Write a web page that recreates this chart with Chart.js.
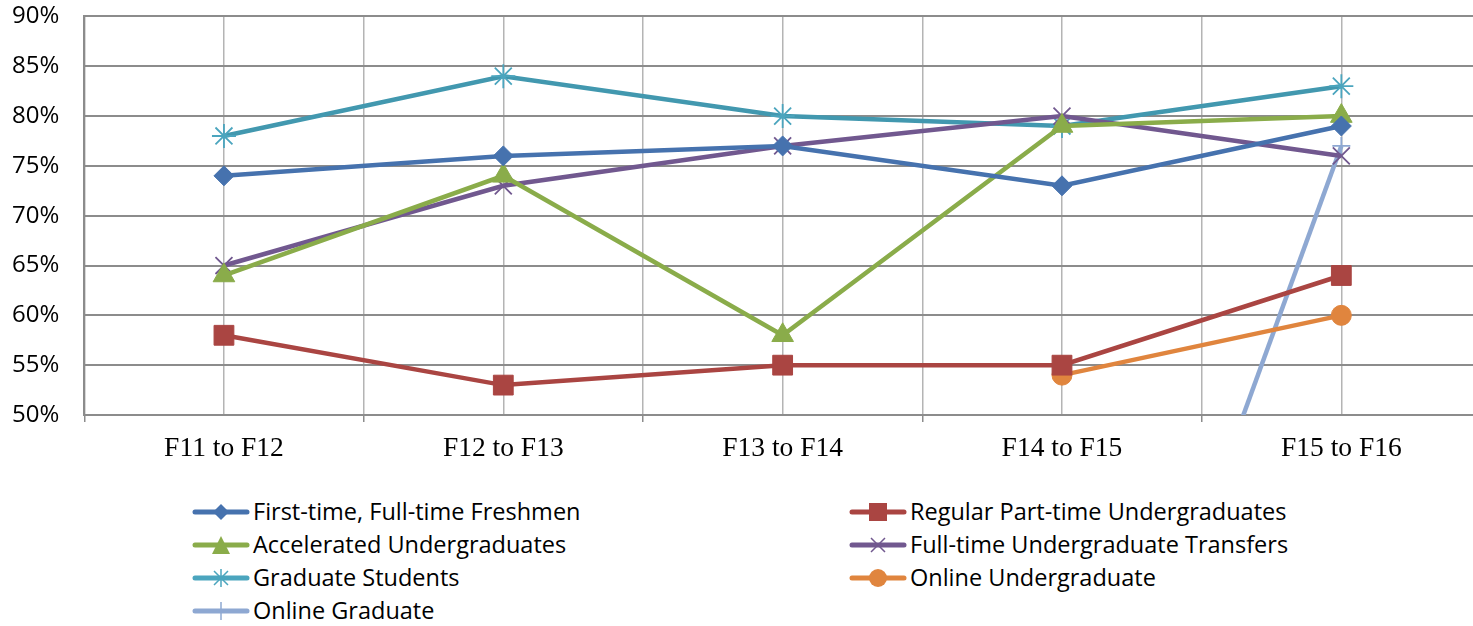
<!DOCTYPE html>
<html>
<head>
<meta charset="utf-8">
<script src="https://cdn.jsdelivr.net/npm/chart.js@4.4.0/dist/chart.umd.min.js"></script>
<style>
    body { margin: 0; background: #fff; overflow: hidden; }
    #wrap { position: relative; width: 1519px; height: 506px; margin-top: -23px; margin-left: -23px; }
    #legend { position: absolute; left: 0; top: 495px; width: 1473px; font-family: "Open Sans", sans-serif; font-size: 23.5px; color: #000; }
    .item { position: absolute; height: 33px; line-height: 33px; white-space: nowrap; }
    .item svg { vertical-align: middle; margin-right: 3px; margin-top: -4px; }
</style>
</head>
<body>
<div id="wrap"><canvas id="chart"></canvas></div>
<div id="legend"></div>
<script>
var periods = ["F11 to F12", "F12 to F13", "F13 to F14", "F14 to F15", "F15 to F16"];

var freshmen = [74, 76, 77, 73, 79];
var partTime = [58, 53, 55, 55, 64];
var accelerated = [64, 74, 58, 79, 80];
var transfers = [65, 73, 77, 80, 76];
var graduate = [78, 84, 80, 79, 83];
var onlineUndergrad = [null, null, null, 54, 60];
var onlineGrad = [null, null, null, 0, 77];

var seriesNames = ["First-time, Full-time Freshmen", "Regular Part-time Undergraduates", "Accelerated Undergraduates",
    "Full-time Undergraduate Transfers", "Graduate Students", "Online Undergraduate", "Online Graduate"];
var seriesData = [freshmen, partTime, accelerated, transfers, graduate, onlineUndergrad, onlineGrad];
var seriesColors = ["#4672AE", "#AA4542", "#8AAC4A", "#71588F", "#4298AF", "#E0853E", "#8EA8D2"];
var markerColors = ["#4672AE", "#AA4542", "#8AAC4A", "#71588F", "#4BA5BE", "#E0853E", "#8EA8D2"];
var markers = ["rectRot", "rect", "triangle", "crossRot", "star", "circle", "cross"];
var markerSizes = [10, 14, 12.5, 12, 12, 10, 9];

var datasets = [];
for (var i = 0; i < seriesData.length; i++) {
    datasets.push({
        label: seriesNames[i],
        data: seriesData[i],
        borderColor: seriesColors[i],
        backgroundColor: markerColors[i],
        pointBorderColor: markerColors[i],
        pointBackgroundColor: markerColors[i],
        pointStyle: markers[i],
        pointRadius: markerSizes[i],
        pointBorderWidth: (markers[i] == "crossRot" || markers[i] == "star" || markers[i] == "cross") ? 1.8 : 1,
        borderWidth: 4.5,
        tension: 0,
        fill: false
    });
}

new Chart("chart", {
    type: "line",
    data: { labels: periods, datasets: datasets },
    options: {
        responsive: true,
        maintainAspectRatio: false,
        animation: false,
        layout: { padding: { left: 10, right: 5, top: 7, bottom: 8 } },
        plugins: { legend: { display: false }, tooltip: { enabled: false } },
        scales: {
            x: {
                offset: true,
                grid: { offset: true, color: "#B4B4B4", lineWidth: 1.5, tickLength: 7, tickColor: "#8C8C8C" },
                border: { color: "#8C8C8C", width: 2 },
                ticks: { color: "#000", padding: 10, font: { family: "Liberation Serif", size: 27.5 } }
            },
            xc: {
                type: "category",
                position: "bottom",
                offset: true,
                grid: { offset: false, color: "#B4B4B4", lineWidth: 1.5, drawTicks: false },
                border: { display: false },
                ticks: { display: false }
            },
            y: {
                min: 50,
                max: 90,
                grid: { color: "#8C8C8C", lineWidth: 2, drawTicks: false },
                border: { color: "#8C8C8C", width: 2 },
                ticks: {
                    stepSize: 5,
                    padding: 25,
                    color: "#000",
                    font: { family: "Open Sans", size: 24 },
                    callback: function (v) { return v + "%"; }
                }
            }
        }
    }
});

// legend in two columns like the original
function markerSvg(style, color) {
    var s = '<svg width="58" height="22" viewBox="0 0 58 22"><line x1="3" y1="11" x2="55" y2="11" stroke="' + color + '" stroke-width="5" stroke-linecap="round"/>';
    if (style == "rectRot") s += '<polygon points="29,3 37,11 29,19 21,11" fill="' + color + '"/>';
    if (style == "rect") s += '<rect x="20" y="2" width="18" height="18" fill="' + color + '"/>';
    if (style == "triangle") s += '<polygon points="29,2 38,20 20,20" fill="' + color + '"/>';
    if (style == "crossRot") s += '<path d="M22 4 L36 18 M36 4 L22 18" stroke="' + color + '" stroke-width="1.5"/>';
    if (style == "star") s += '<path d="M22 4 L36 18 M36 4 L22 18 M29 2 L29 20" stroke="' + color + '" stroke-width="1.5"/>';
    if (style == "circle") s += '<circle cx="29" cy="11" r="9" fill="' + color + '"/>';
    if (style == "cross") s += '<path d="M29 2 L29 20" stroke="' + color + '" stroke-width="1.5"/>';
    return s + '</svg>';
}
var legendLeft = [192, 849];
var html = "";
for (var k = 0; k < seriesNames.length; k++) {
    var col = k % 2;
    var row = Math.floor(k / 2);
    html += '<div class="item" style="left:' + legendLeft[col] + 'px;top:' + (row * 33) + 'px">' +
        markerSvg(markers[k], k == 4 ? markerColors[k] : seriesColors[k]) + seriesNames[k] + '</div>';
}
document.getElementById("legend").innerHTML = html;
</script>
</body>
</html>
